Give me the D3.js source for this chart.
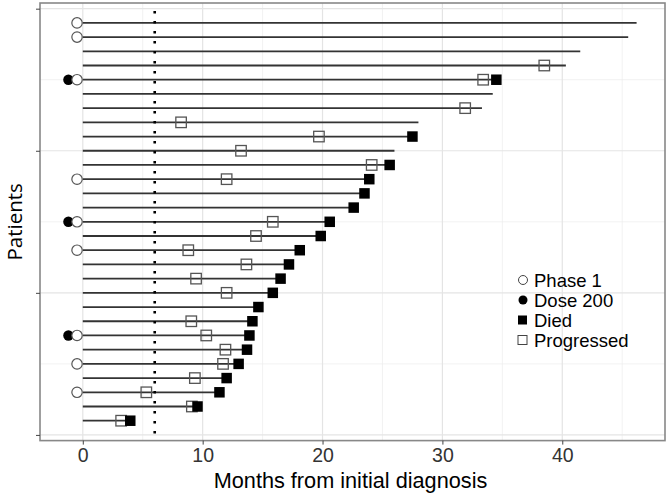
<!DOCTYPE html>
<html><head><meta charset="utf-8">
<script src="https://cdn.jsdelivr.net/npm/d3@7"></script>
<style>body{margin:0;background:#fff}svg{display:block}</style>
</head><body>
<svg id="c" width="670" height="494"></svg>
<script>
// Patients numbered from bottom (1) to top (29)
const patient   = [1,2,3,4,5,6,7,8,9,10,11,12,13,14,15,16,17,18,19,20,21,22,23,24,25,26,27,28,29];
const followUp  = [3.96,9.57,11.4,12.0,13.0,13.7,13.9,14.15,14.65,15.85,16.5,17.2,18.1,19.85,20.6,22.6,23.5,23.9,25.6,26.0,27.5,28.0,33.3,34.2,34.5,40.3,41.5,45.5,46.2];
const progTime  = [3.2,9.1,5.3,9.35,11.7,11.9,10.3,9.05,null,12.0,9.45,13.65,8.8,14.45,15.85,null,null,12.0,24.1,13.2,19.7,8.2,31.9,null,33.4,38.5,null,null,null];
const died      = [1,1,1,1,1,1,1,1,1,1,1,1,1,1,1,1,1,1,1,0,1,0,0,0,1,0,0,0,0];
const phase1    = [0,0,1,0,1,0,1,0,0,0,0,0,1,0,1,0,0,1,0,0,0,0,0,0,1,0,0,1,1];
const dose200   = [0,0,0,0,0,0,1,0,0,0,0,0,0,0,1,0,0,0,0,0,0,0,0,0,1,0,0,0,0];
const xTicks    = [0,10,20,30,40];
const xMinor    = [5,15,25,35,45];
const yTicks    = [0,10,20,30];
const yMinor    = [5,15,25];
const cutoff    = 6;
const legendItems = ["Phase 1","Dose 200","Died","Progressed"];

const svg = d3.select("#c");
const L=40, R=665, T=3, B=440.6;
const x = d3.scaleLinear().domain([-3.57,48.57]).range([L,R]);
const y = d3.scaleLinear().domain([-0.4,30.4]).range([B,T]);
const rows = patient.map((p,i)=>({p, end:followUp[i], prog:progTime[i], died:died[i], ph:phase1[i], dose:dose200[i]}));

// grid
const g = svg.append("g");
g.selectAll(".vmin").data(xMinor).join("line").attr("x1",d=>x(d)).attr("x2",d=>x(d)).attr("y1",T).attr("y2",B).attr("stroke","#ededed").attr("stroke-width",0.7);
g.selectAll(".hmin").data(yMinor).join("line").attr("y1",d=>y(d)).attr("y2",d=>y(d)).attr("x1",L).attr("x2",R).attr("stroke","#ededed").attr("stroke-width",0.7);
g.selectAll(".vmaj").data(xTicks).join("line").attr("x1",d=>x(d)).attr("x2",d=>x(d)).attr("y1",T).attr("y2",B).attr("stroke","#e4e4e4").attr("stroke-width",1.2);
g.selectAll(".hmaj").data(yTicks).join("line").attr("y1",d=>y(d)).attr("y2",d=>y(d)).attr("x1",L).attr("x2",R).attr("stroke","#e4e4e4").attr("stroke-width",1.2);

// segments
svg.append("g").selectAll("line").data(rows).join("line")
  .attr("x1",x(0)).attr("x2",d=>x(d.end)).attr("y1",d=>y(d.p)).attr("y2",d=>y(d.p))
  .attr("stroke","#333").attr("stroke-width",1.8);

// cutoff dotted line
svg.append("line").attr("x1",x(cutoff)).attr("x2",x(cutoff)).attr("y1",T+8).attr("y2",B)
  .attr("stroke","#000").attr("stroke-width",2.6).attr("stroke-dasharray","2.6,7.4");

const sq = 10.5;
// progressed squares
svg.append("g").selectAll("rect").data(rows.filter(d=>d.prog!=null)).join("rect")
  .attr("x",d=>x(d.prog)-sq/2).attr("y",d=>y(d.p)-sq/2).attr("width",sq).attr("height",sq)
  .attr("fill","none").attr("stroke","#555").attr("stroke-width",1.3);
// died squares
svg.append("g").selectAll("rect").data(rows.filter(d=>d.died)).join("rect")
  .attr("x",d=>x(d.end)-sq/2).attr("y",d=>y(d.p)-sq/2).attr("width",sq).attr("height",sq)
  .attr("fill","#000");
// dose circles
svg.append("g").selectAll("circle").data(rows.filter(d=>d.dose)).join("circle")
  .attr("cx",x(-1.2)).attr("cy",d=>y(d.p)).attr("r",5.2).attr("fill","#000");
// phase1 circles
svg.append("g").selectAll("circle").data(rows.filter(d=>d.ph)).join("circle")
  .attr("cx",x(-0.48)).attr("cy",d=>y(d.p)).attr("r",5.2).attr("fill","#fff").attr("stroke","#555").attr("stroke-width",1.2);

// panel border
svg.append("rect").attr("x",L).attr("y",T).attr("width",R-L).attr("height",B-T)
  .attr("fill","none").attr("stroke","#888").attr("stroke-width",1.6);

// axes
const xAxis = svg.append("g").attr("transform",`translate(0,${B})`)
  .call(d3.axisBottom(x).tickValues(xTicks).tickSize(4).tickPadding(3.7).tickFormat(d3.format("d")));
xAxis.select(".domain").remove();
xAxis.selectAll("line").attr("stroke","#444");
xAxis.selectAll("text").attr("fill","#333").style("font-family","Liberation Sans, Arial, sans-serif").style("font-size","19.5px");

const yAxis = svg.append("g").attr("transform",`translate(${L},0)`)
  .call(d3.axisLeft(y).tickValues(yTicks).tickSize(4).tickFormat(""));
yAxis.select(".domain").remove();
yAxis.selectAll("line").attr("stroke","#444");

svg.append("text").attr("x",(L+R)/2 - 2).attr("y",488).attr("text-anchor","middle")
  .style("font-family","Liberation Sans, Arial, sans-serif").style("font-size","21.7px").attr("fill","#000")
  .text("Months from initial diagnosis");
svg.append("text").attr("transform",`translate(21.5,${(T+B)/2}) rotate(-90)`).attr("text-anchor","middle")
  .style("font-family","Open Sans, sans-serif").style("font-size","20.5px").attr("fill","#000")
  .text("Patients");

// legend
const lg = svg.append("g");
const ly = d=>280+legendItems.indexOf(d)*20;
lg.selectAll("text").data(legendItems).join("text")
  .attr("x",534).attr("y",d=>ly(d)+6.5)
  .style("font-family","Liberation Sans, Arial, sans-serif").style("font-size","18.5px").attr("fill","#000")
  .text(d=>d);
lg.append("circle").attr("cx",523).attr("cy",ly("Phase 1")).attr("r",4.5).attr("fill","#fff").attr("stroke","#444").attr("stroke-width",1);
lg.append("circle").attr("cx",523).attr("cy",ly("Dose 200")).attr("r",4.5).attr("fill","#000");
lg.append("rect").attr("x",518).attr("y",ly("Died")-4.5).attr("width",9).attr("height",9).attr("fill","#000");
lg.append("rect").attr("x",518).attr("y",ly("Progressed")-4.5).attr("width",9).attr("height",9).attr("fill","#fff").attr("stroke","#444").attr("stroke-width",1);
</script>
</body></html>
